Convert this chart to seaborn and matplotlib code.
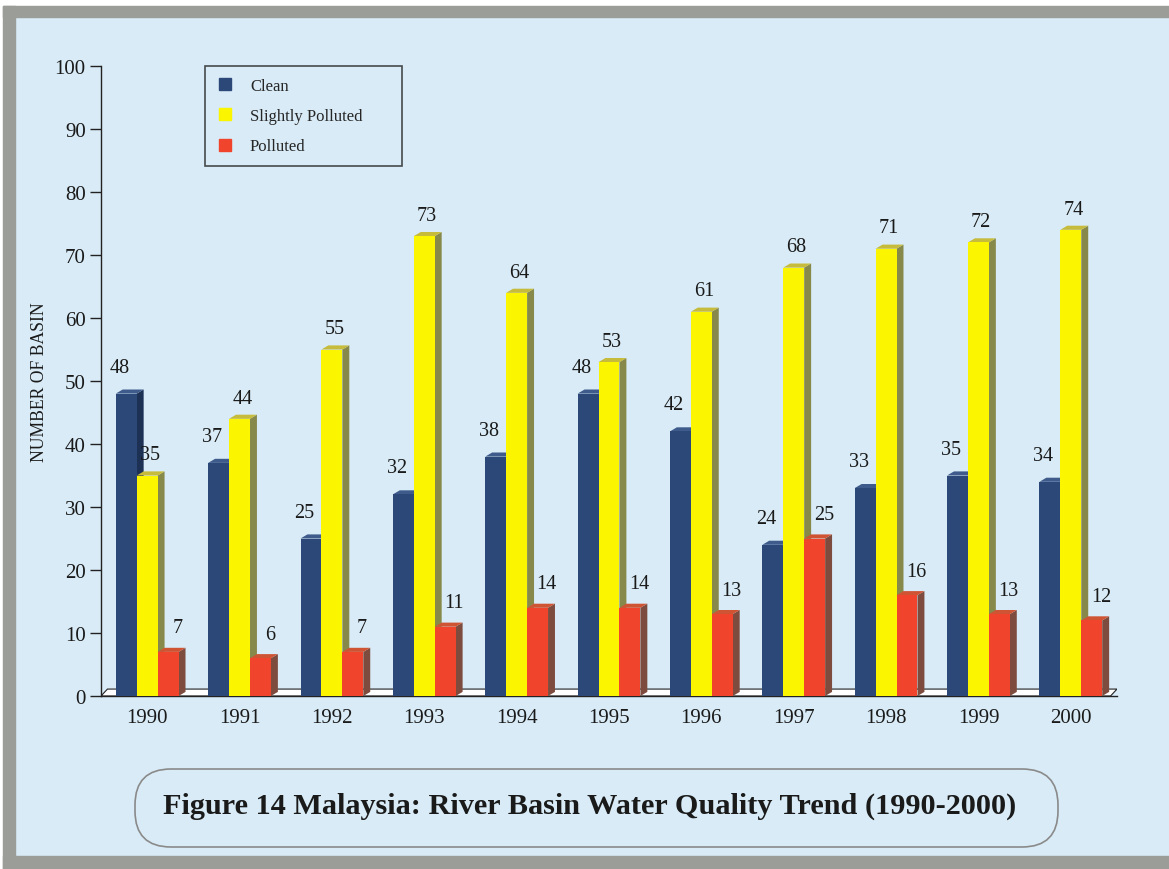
import numpy as np
import pandas as pd
import seaborn as sns
import matplotlib.pyplot as plt
from matplotlib.patches import Polygon, Rectangle, FancyBboxPatch
from matplotlib.lines import Line2D
from matplotlib.colors import to_rgb

# data
years = [1990, 1991, 1992, 1993, 1994, 1995, 1996, 1997, 1998, 1999, 2000]
status = ["Clean", "Slightly Polluted", "Polluted"]
clean = [48, 37, 25, 32, 38, 48, 42, 24, 33, 35, 34]
slightly = [35, 44, 55, 73, 64, 53, 61, 68, 71, 72, 74]
polluted = [7, 6, 7, 11, 14, 14, 13, 25, 16, 13, 12]

front_colors = ["#2c4878", "#fbf500", "#f0452c"]
side_colors = ["#1d3154", "#87894a", "#7d4c3e"]
top_colors = ["#3e5b8c", "#c6bb3a", "#cf5434"]
label_dx = [-0.07, 0.03, 0.10]
label_dy = [4.2, 3.3, 3.8]

df = pd.DataFrame({
    "Year": years * 3,
    "Status": [s for s in status for _ in years],
    "Basins": clean + slightly + polluted,
})

sns.set_theme(style="white")
plt.rcParams['font.family'] = ['Liberation Serif', 'DejaVu Serif']

fig = plt.figure(figsize=(11.69, 8.70), dpi=100)
fig.patch.set_facecolor('#d8ebf6')

# background decorations (frame + caption box), pixel coordinates
bg = fig.add_axes([0, 0, 1, 1], zorder=0)
bg.set_xlim(0, 1169)
bg.set_ylim(870, 0)
bg.axis('off')
bg.add_patch(Rectangle((0, 0), 1169, 7, color='white'))
bg.add_patch(Rectangle((0, 0), 3, 870, color='white'))
bg.add_patch(Rectangle((3, 7), 1166, 11, color='#9b9d99'))
bg.add_patch(Rectangle((3, 7), 12, 863, color='#9b9d99'))
bg.add_patch(Rectangle((3, 857), 1166, 13, color='#9b9d99'))
bg.add_patch(FancyBboxPatch((135, 770), 923, 78,
                            boxstyle="round,pad=0,rounding_size=36",
                            facecolor='none', edgecolor='#8a8a8a', lw=1.2))
bg.text(590, 806, "Figure 14 Malaysia: River Basin Water Quality Trend (1990-2000)",
        ha='center', va='center', fontsize=21.8, fontweight='bold', color='#1a1a1a')

ax = fig.add_axes([101 / 1169, (870 - 697) / 870, 1016 / 1169, 630 / 870], zorder=2)
ax.patch.set_visible(False)

sns.barplot(data=df, x="Year", y="Basins", hue="Status", hue_order=status,
            palette=front_colors, width=0.68, saturation=1, legend=False,
            edgecolor='none', linewidth=0, ax=ax)

# fake 3D: side and top faces on every bar
dx, dy = 0.075, 0.65
pal = np.array([to_rgb(c) for c in front_colors])
for p in list(ax.patches):
    j = int(np.argmin(((pal - np.array(p.get_facecolor()[:3])) ** 2).sum(axis=1)))
    x, w, h = p.get_x(), p.get_width(), p.get_height()
    p.set_zorder(3.5 + 2 * j)
    ax.add_patch(Polygon([(x + w, 0), (x + w + dx, dy), (x + w + dx, h + dy), (x + w, h)],
                         closed=True, facecolor=side_colors[j], edgecolor='none', zorder=3 + 2 * j))
    ax.add_patch(Polygon([(x, h), (x + dx, h + dy), (x + w + dx, h + dy), (x + w, h)],
                         closed=True, facecolor=top_colors[j], edgecolor='none', zorder=3 + 2 * j))
    ax.text(x + w / 2 + label_dx[j], h + label_dy[j], f"{h:.0f}", ha='center', va='center',
            fontsize=14.5, color='#1a1a1a', zorder=10)

# floor strip
ax.add_patch(Polygon([(-0.5, 0), (10.43, 0), (10.5, 1.1), (-0.43, 1.1)], closed=True,
                     facecolor='white', edgecolor='#222222', lw=0.8, zorder=1.5))

ax.set_xlim(-0.5, 10.5)
ax.set_ylim(0, 100)
ax.set_yticks(range(0, 101, 10))
ax.set_xticks(range(len(years)))
ax.set_xticklabels([str(y) for y in years])
ax.set_xticks(np.arange(-0.5, 11, 1), minor=True)
ax.tick_params(axis='x', which='major', length=0, labelsize=15, pad=9, labelcolor='#1a1a1a')
ax.tick_params(axis='x', which='minor', length=12, direction='inout', width=1, color='#222222')
ax.tick_params(axis='y', length=8, width=1, direction='out', labelsize=15, pad=3,
               color='#222222', labelcolor='#1a1a1a', left=True)
for side in ['top', 'right']:
    ax.spines[side].set_visible(False)
for side in ['left', 'bottom']:
    ax.spines[side].set_color('#222222')
    ax.spines[side].set_linewidth(1)

ax.set_xlabel("")
ax.set_ylabel("NUMBER OF BASIN", fontsize=12.7, color='#1a1a1a')
ax.yaxis.set_label_coords(-0.052, 0.5)

handles = [Line2D([], [], marker='s', ls='none', color=c, markersize=9) for c in front_colors]
leg = ax.legend(handles, status, loc='upper left', bbox_to_anchor=(0.102, 0.0, 0.194, 1.0),
                mode='expand', frameon=True, fancybox=False, edgecolor='#222222',
                facecolor='none', fontsize=12, labelspacing=0.85, handletextpad=1.0,
                handlelength=1.0, borderpad=0.72, borderaxespad=0)
leg.get_frame().set_linewidth(1.2)

fig.savefig("out.png", dpi=100, facecolor=fig.get_facecolor())
